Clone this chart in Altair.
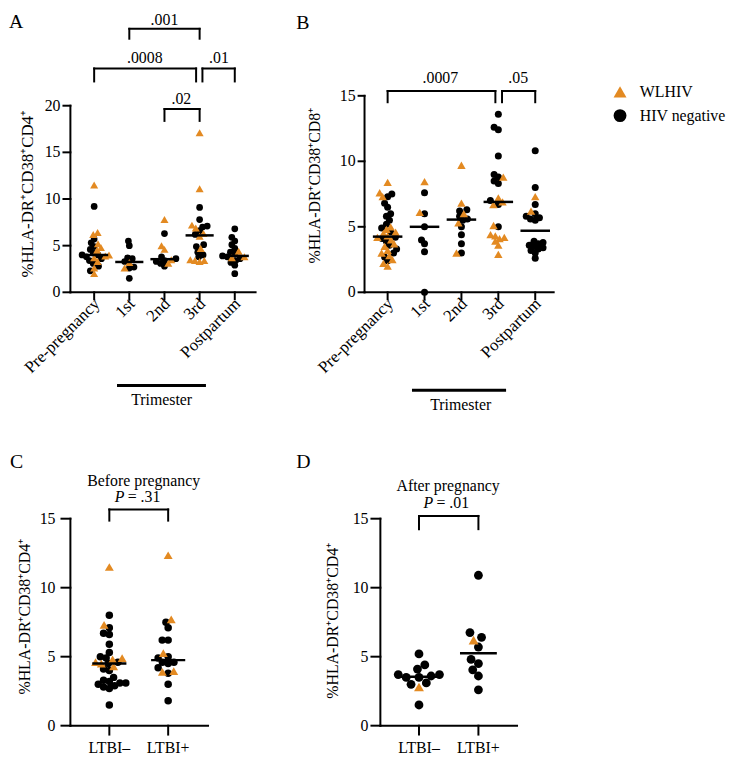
import math
import numpy as np
import pandas as pd
import altair as alt

FONT = "Liberation Serif"
ORANGE = "#E38A22"
STATUS = ["WLHIV", "HIV negative"]

# ---------------- data ----------------
A_CATS = ["Pre-pregnancy", "1st", "2nd", "3rd", "Postpartum"]
A_NEG = [
    [9.2, 5.7, 5.3, 4.9, 4.6, 4.0, 4.2, 4.0, 3.8, 3.6, 3.4, 3.1, 2.8, 2.3],
    [5.5, 5.0, 3.7, 3.6, 3.3, 2.7, 2.6, 1.5],
    [6.3, 3.8, 3.6, 3.4, 3.3, 3.1, 2.8],
    [9.1, 7.8, 7.1, 7.0, 6.6, 6.2, 5.1, 4.9, 4.3, 4.0, 3.8],
    [6.8, 5.9, 5.5, 5.1, 4.7, 4.3, 4.1, 3.9, 3.8, 3.6, 3.4, 3.2, 2.9, 2.0],
]
A_WL = [
    [11.5, 6.4, 6.2, 5.2, 4.8, 4.5, 3.9, 4.0, 3.7, 3.3, 2.6, 2.0],
    [3.2, 2.6],
    [7.8, 5.0, 4.6, 3.5, 3.1],
    [17.1, 11.1, 7.2, 6.9, 6.3, 6.0, 4.7, 3.5, 3.4, 3.4, 3.3],
    [4.4, 3.8, 3.7],
]
A_TICKS = [0, 5, 10, 15, 20]
A_PVALS = [".001", ".0008", ".01", ".02"]

B_CATS = A_CATS
B_NEG = [
    [7.5, 7.3, 6.8, 6.5, 6.0, 5.8, 5.5, 5.2, 4.9, 4.6, 4.2, 4.1, 3.9, 3.6, 3.3, 3.0, 2.7, 2.4],
    [7.6, 6.0, 5.0, 4.0, 3.7, 3.1, 0.0],
    [6.3, 6.2, 5.8, 5.6, 5.5, 5.0, 4.4, 3.7, 3.0],
    [13.6, 12.6, 12.4, 10.4, 9.0, 8.8, 8.5, 8.3, 7.0, 6.7, 5.0],
    [10.8, 8.0, 6.7, 6.0, 5.8, 5.7, 5.6, 5.5, 3.9, 3.8, 3.7, 3.6, 3.5, 3.4, 3.3, 3.2, 3.0, 2.6],
]
B_WL = [
    [8.4, 7.6, 7.3, 5.0, 4.8, 4.6, 4.5, 4.3, 4.2, 4.0, 3.7, 3.5, 3.2, 3.0, 2.8, 2.5, 2.2, 2.0],
    [8.45, 6.1],
    [9.7, 6.8, 6.0, 5.3, 3.0],
    [8.8, 7.2, 6.9, 6.7, 5.1, 4.4, 4.3, 4.2, 4.1, 3.9, 3.6, 2.9],
    [7.3, 6.2],
]
B_TICKS = [0, 5, 10, 15]
B_PVALS = [".0007", ".05"]

CD_CATS = ["LTBI\u2013", "LTBI+"]
CD_TICKS = [0, 5, 10, 15]
C_NEG = [
    [8.0, 7.1, 6.7, 6.6, 5.9, 5.3, 5.0, 4.9, 4.6, 4.5, 4.1, 4.0, 3.5, 3.3, 3.2, 3.1, 3.1, 3.0, 2.9, 2.8, 2.7, 1.5],
    [7.5, 7.1, 6.2, 6.2, 5.0, 4.9, 4.6, 4.6, 4.5, 4.2, 3.8, 3.0, 1.8],
]
C_WL = [
    [11.5, 7.3, 4.9, 4.8, 4.6, 4.5, 4.3],
    [12.35, 7.7, 5.25, 3.95, 3.9],
]
C_PVAL = ".31"
D_NEG = [
    [5.2, 4.4, 4.1, 3.7, 3.7, 3.6, 3.5, 3.5, 3.1, 3.0, 1.5],
    [10.9, 6.75, 6.4, 5.7, 4.8, 4.5, 4.05, 3.6, 2.6],
]
D_WL = [
    [2.8],
    [6.2],
]
D_PVAL = ".01"

YT_CD4 = "%HLA-DR\u207aCD38\u207aCD4\u207a"
YT_CD8 = "%HLA-DR\u207aCD38\u207aCD8\u207a"

# ---------------- helpers ----------------
color_sc = alt.Scale(domain=STATUS, range=[ORANGE, "black"])
shape_sc = alt.Scale(domain=STATUS, range=["triangle-up", "circle"])
LEG = alt.Legend(orient="none", legendX=547, legendY=-12, title=None,
                 labelFont=FONT, labelFontSize=16, labelColor="black",
                 symbolSize=170, symbolStrokeWidth=0, rowPadding=8,
                 padding=0, labelOffset=12, labelLimit=300)


def swarm(vals, ppu, d, cap):
    order = sorted(range(len(vals)), key=lambda i: vals[i])
    placed = []
    xs = [0.0] * len(vals)
    for i in order:
        y = vals[i] * ppu
        cands = [0.0]
        for (px, py) in placed:
            dy = abs(py - y)
            if dy < d:
                dx = math.sqrt(d * d - dy * dy)
                cands += [px + dx + 1e-6, px - dx - 1e-6]
        cands.sort(key=lambda c: (abs(c), c))
        best = None
        for c in cands:
            if all((c - px) ** 2 + (y - py) ** 2 >= d * d - 1e-6 for px, py in placed):
                best = c
                break
        if best is None:
            best = 0.0
        best = max(-cap, min(cap, best))
        xs[i] = best
        placed.append((best, y))
    return xs


def txt(df, X, Y, **kw):
    base = dict(font=FONT, fontSize=16, color="black")
    base.update(kw)
    return alt.Chart(df).mark_text(**base).encode(x=X("x:Q"), y=Y("v:Q"), text="t:N")


def make_panel(cats, neg, wl, ticks, sp):
    ppx, ppu = sp["ppx"], sp["ppu"]
    x0 = sp["xdom"][0]
    xs = alt.Scale(domain=sp["xdom"], nice=False, zero=False, padding=0)
    ys = alt.Scale(domain=sp["ydom"], nice=False, zero=False, padding=0)
    X = lambda f: alt.X(f, scale=xs, axis=None)
    Y = lambda f: alt.Y(f, scale=ys, axis=None)

    rows, meds = [], []
    for i in range(len(cats)):
        vals = neg[i] + wl[i]
        stat = ["HIV negative"] * len(neg[i]) + ["WLHIV"] * len(wl[i])
        offs = swarm(vals, ppu, sp["d"], sp["cap"])
        for v, s, o in zip(vals, stat, offs):
            rows.append({"x": i + o / ppx, "v": v, "status": s})
        m = float(np.median(vals))
        meds.append({"x": i - sp["mw"], "x2": i + sp["mw"], "v": m})
    pts = pd.DataFrame(rows)
    med = pd.DataFrame(meds)

    enc = dict(x=X("x:Q"), y=Y("v:Q"),
               shape=alt.Shape("status:N", scale=shape_sc, legend=LEG),
               color=alt.Color("status:N", scale=color_sc, legend=LEG))
    circ = alt.Chart(pts[pts.status == "HIV negative"]).mark_point(
        filled=True, size=sp["cs"], opacity=1, strokeWidth=0).encode(**enc)
    tri = alt.Chart(pts[pts.status == "WLHIV"]).mark_point(
        filled=True, size=sp["ts"], opacity=1, strokeWidth=0).encode(**enc)
    medl = alt.Chart(med).mark_rule(color="black", strokeWidth=2.5).encode(
        x=X("x:Q"), x2="x2:Q", y=Y("v:Q"))

    # ---- axes (lines, ticks) drawn through the scales ----
    segs = []
    ytop = ticks[-1]
    segs.append({"x": x0, "x2": x0, "v": 0, "v2": ytop})
    segs.append({"x": x0, "x2": sp["xdom"][1], "v": 0, "v2": 0})
    for t in ticks:
        segs.append({"x": x0 - sp["ytick"] / ppx, "x2": x0, "v": t, "v2": t})
    for i in range(len(cats)):
        segs.append({"x": i, "x2": i, "v": 0, "v2": -sp["xtick"] / ppu})
    for (x1, x2, yb, yl) in sp["brackets"]:
        segs.append({"x": x1, "x2": x2, "v": yb, "v2": yb})
        segs.append({"x": x1, "x2": x1, "v": yb, "v2": yl})
        segs.append({"x": x2, "x2": x2, "v": yb, "v2": yl})
    lines = alt.Chart(pd.DataFrame(segs)).mark_rule(
        color="black", strokeWidth=2, strokeCap="square").encode(
        x=X("x:Q"), x2="x2:Q", y=Y("v:Q"), y2="v2:Q")

    layers = [circ, tri, medl, lines]

    ylab = pd.DataFrame({"x": [x0 - (sp["ytick"] + sp["ylpad"]) / ppx] * len(ticks),
                         "v": ticks, "t": [str(t) for t in ticks]})
    layers.append(txt(ylab, X, Y, align="right", baseline="middle"))
    tx, ty = sp["ytitle_pos"]
    layers.append(txt(pd.DataFrame([{"x": x0 - tx / ppx, "v": ty, "t": sp["ytitle"]}]), X, Y,
                      align="center", baseline="middle", angle=270, fontSize=sp["tfs"]))
    lx_, ly_ = sp["xlab_off"]
    xlab = pd.DataFrame({"x": [i + lx_ / ppx for i in range(len(cats))],
                         "v": [-ly_ / ppu] * len(cats), "t": cats})
    if sp["angle"]:
        layers.append(txt(xlab, X, Y, align="right", baseline="middle", angle=sp["angle"],
                          fontSize=17))
    else:
        layers.append(txt(xlab, X, Y, align="center", baseline="top"))

    if sp.get("trim"):
        x1, x2, yy, tx2, ty2 = sp["trim"]
        layers.append(alt.Chart(pd.DataFrame([{"x": x1, "x2": x2, "v": yy}])).mark_rule(
            color="black", strokeWidth=3).encode(x=X("x:Q"), x2="x2:Q", y=Y("v:Q")))
        layers.append(txt(pd.DataFrame([{"x": tx2, "v": ty2, "t": "Trimester"}]), X, Y,
                          align="center", baseline="middle"))
    if sp.get("plabels"):
        layers.append(txt(pd.DataFrame(sp["plabels"], columns=["x", "v", "t"]), X, Y,
                          align="center", baseline="middle"))
    if sp.get("ptext"):
        px_, py_, pv = sp["ptext"]
        layers.append(txt(pd.DataFrame([{"x": px_, "v": py_, "t": "P"}]), X, Y,
                          fontStyle="italic", align="left", baseline="middle", dx=-23))
        layers.append(txt(pd.DataFrame([{"x": px_, "v": py_, "t": "= " + pv}]), X, Y,
                          align="left", baseline="middle", dx=-10))
    if sp.get("title"):
        tx3, ty3, tt = sp["title"]
        layers.append(txt(pd.DataFrame([{"x": tx3, "v": ty3, "t": tt}]), X, Y,
                          align="center", baseline="middle"))
    lx, ly, lt = sp["letter"]
    layers.append(txt(pd.DataFrame([{"x": lx, "v": ly, "t": lt}]), X, Y,
                      fontSize=20, align="left", baseline="top"))

    return alt.layer(*layers).properties(width=sp["w"], height=sp["h"])


SPEC_A = dict(ppx=35.5, ppu=9.42, xdom=[-0.676, 4.592], ydom=[0, 21.06], w=187, h=198.4,
              angle=315, xlab_off=(3, 9), xtick=7, ytick=7, ylpad=3,
              ytitle=YT_CD4, ytitle_pos=(43, 10.56), tfs=17,
              d=4.8, cap=15, cs=46, ts=66, mw=0.4,
              brackets=[(1, 3, 28.24, 27.18), (0, 2.9, 23.99, 22.6), (3.08, 4, 23.99, 22.6),
                        (2, 3, 19.64, 18.37)],
              plabels=[(2.0, 29.13, A_PVALS[0]), (1.44, 25.16, A_PVALS[1]),
                       (3.55, 25.16, A_PVALS[2]), (2.48, 20.7, A_PVALS[3])],
              trim=(0.65, 3.18, -9.98, 1.92, -11.57), letter=(-2.423, 29.98, "A"))
SPEC_B = dict(ppx=37.25, ppu=13.227, xdom=[-0.626, 4.5], ydom=[0, 15], w=191, h=198.4,
              angle=315, xlab_off=(3, 9), xtick=7, ytick=6, ylpad=3,
              ytitle=YT_CD8, ytitle_pos=(50, 8.14), tfs=16,
              d=5.0, cap=16, cs=50, ts=72, mw=0.4,
              brackets=[(0, 2.92, 15.37, 14.51), (3.1, 4, 15.37, 14.51)],
              plabels=[(1.43, 16.38, B_PVALS[0]), (3.54, 16.38, B_PVALS[1])],
              trim=(0.66, 3.21, -7.48, 1.98, -8.62), letter=(-2.478, 21.33, "B"))
SPEC_C = dict(ppx=59.4, ppu=13.93, xdom=[-0.662, 1.678], ydom=[0, 15], w=139, h=209,
              angle=0, xlab_off=(0, 15), xtick=9, ytick=9, ylpad=6,
              ytitle=YT_CD4, ytitle_pos=(46, 7.9), tfs=16,
              d=6.0, cap=22, cs=57, ts=81, mw=0.29,
              brackets=[(0, 1, 15.67, 14.86)], ptext=(0.48, 16.58, C_PVAL),
              title=(0.584, 17.73, "Before pregnancy"), letter=(-1.689, 19.81, "C"))
SPEC_D = dict(ppx=60, ppu=13.93, xdom=[-0.65, 1.65], ydom=[0, 15], w=138, h=209,
              angle=0, xlab_off=(0, 15), xtick=9, ytick=9, ylpad=3,
              ytitle=YT_CD4, ytitle_pos=(48, 7.6), tfs=16,
              d=8.5, cap=22, cs=79, ts=100, mw=0.31,
              brackets=[(0, 1, 15.2, 14.24)], ptext=(0.46, 16.15, D_PVAL),
              title=(0.49, 17.37, "After pregnancy"), letter=(-2.067, 19.81, "D"))

pA = make_panel(A_CATS, A_NEG, A_WL, A_TICKS, SPEC_A)
pB = make_panel(B_CATS, B_NEG, B_WL, B_TICKS, SPEC_B)
pC = make_panel(CD_CATS, C_NEG, C_WL, CD_TICKS, SPEC_C)
pD = make_panel(CD_CATS, D_NEG, D_WL, CD_TICKS, SPEC_D)

chart = alt.vconcat(
    alt.hconcat(pA, pB, spacing=38),
    alt.hconcat(pC, pD, spacing=86),
    spacing=38,
).properties(padding=0, background="white").configure_view(stroke=None)

chart.save("out.html", embed_options={"renderer": "svg", "actions": False})
